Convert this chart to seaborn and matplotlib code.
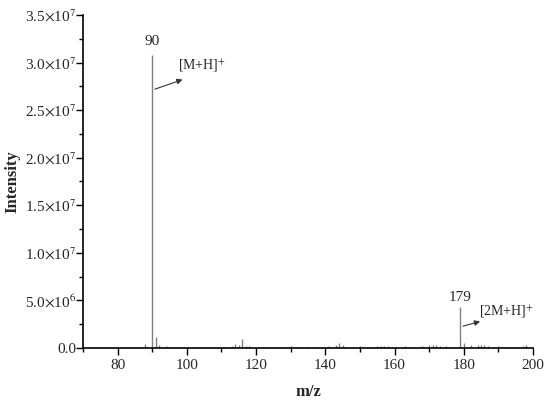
import matplotlib
matplotlib.use('Agg')
import matplotlib.pyplot as plt
from matplotlib.ticker import MultipleLocator
import seaborn as sns

# Datos del espectro de masas
mz = [86, 88, 90, 91, 92, 94, 111, 113, 114, 115, 116, 117, 118, 125, 130,
      135, 141, 143, 144, 145, 150, 155, 156, 157, 158, 163, 168, 170, 171,
      172, 173, 175, 179, 180, 182, 184, 185, 186, 187, 190, 193, 197, 198]
intensity = [1.0e5, 4.0e5, 3.08e7, 1.1e6, 3.0e5, 2.0e5, 1.0e5, 2.0e5, 4.5e5,
             3.0e5, 9.0e5, 2.0e5, 1.5e5, 1.0e5, 1.5e5, 1.0e5, 1.5e5, 3.0e5,
             5.0e5, 2.5e5, 1.5e5, 1.5e5, 2.0e5, 2.0e5, 1.5e5, 2.0e5, 1.5e5,
             2.5e5, 3.5e5, 3.0e5, 2.0e5, 1.5e5, 4.3e6, 5.0e5, 2.5e5, 3.0e5,
             3.5e5, 3.0e5, 2.0e5, 1.5e5, 1.0e5, 2.0e5, 3.0e5]

yticks = [0, 5e6, 1e7, 1.5e7, 2e7, 2.5e7, 3e7, 3.5e7]
ytick_labels = ['0.0', r'5.0$\times$10$^{6}$', r'1.0$\times$10$^{7}$',
                r'1.5$\times$10$^{7}$', r'2.0$\times$10$^{7}$',
                r'2.5$\times$10$^{7}$', r'3.0$\times$10$^{7}$',
                r'3.5$\times$10$^{7}$']
xticks = [80, 100, 120, 140, 160, 180, 200]

sns.set_style('ticks')
plt.rcParams['font.family'] = ['Liberation Serif', 'DejaVu Serif']
plt.rcParams['mathtext.fontset'] = 'stix'

fig = plt.figure(figsize=(5.5, 4.04), dpi=100)
ax = fig.add_axes([0.151, 0.139, 0.818, 0.824])

ax.vlines(mz, 0, intensity, color='#808080', linewidth=1.0)

ax.set_xlim(70, 200)
ax.set_ylim(0, 3.5e7)
ax.set_xticks(xticks)
ax.set_xticklabels([str(t) for t in xticks], fontsize=11)
ax.set_yticks(yticks)
ax.set_yticklabels(ytick_labels, fontsize=11)
ax.xaxis.set_minor_locator(MultipleLocator(10))
ax.yaxis.set_minor_locator(MultipleLocator(2.5e6))
ax.tick_params(axis='y', which='major', pad=0)
ax.tick_params(axis='x', which='major', pad=3)
ax.tick_params(which='major', direction='out', length=5, width=1,
               color='black')
ax.tick_params(which='minor', direction='out', length=3, width=1,
               color='black')
for s in ['left', 'bottom']:
    ax.spines[s].set_linewidth(1.2)
    ax.spines[s].set_color('black')
sns.despine(ax=ax)

ax.set_xlabel('m/z', fontsize=12, fontweight='bold', labelpad=9)
ax.set_ylabel('Intensity', fontsize=12, fontweight='bold', labelpad=3)

# Anotaciones de los picos
ax.text(90, 3.15e7, '90', ha='center', va='bottom', fontsize=11)
ax.annotate('', xy=(99.5, 2.83e7), xytext=(90, 2.71e7),
            arrowprops=dict(arrowstyle='-|>', color='#333333', lw=0.8,
                            mutation_scale=8))
ax.text(97.5, 2.97e7, r'[M+H]$^{+}$', ha='left', va='center', fontsize=10)

ax.text(179, 4.6e6, '179', ha='center', va='bottom', fontsize=11)
ax.annotate('', xy=(185.5, 2.85e6), xytext=(179, 2.2e6),
            arrowprops=dict(arrowstyle='-|>', color='#333333', lw=0.8,
                            mutation_scale=8))
ax.text(184.3, 3.75e6, r'[2M+H]$^{+}$', ha='left', va='center', fontsize=10)

plt.savefig('out.png', dpi=100)
